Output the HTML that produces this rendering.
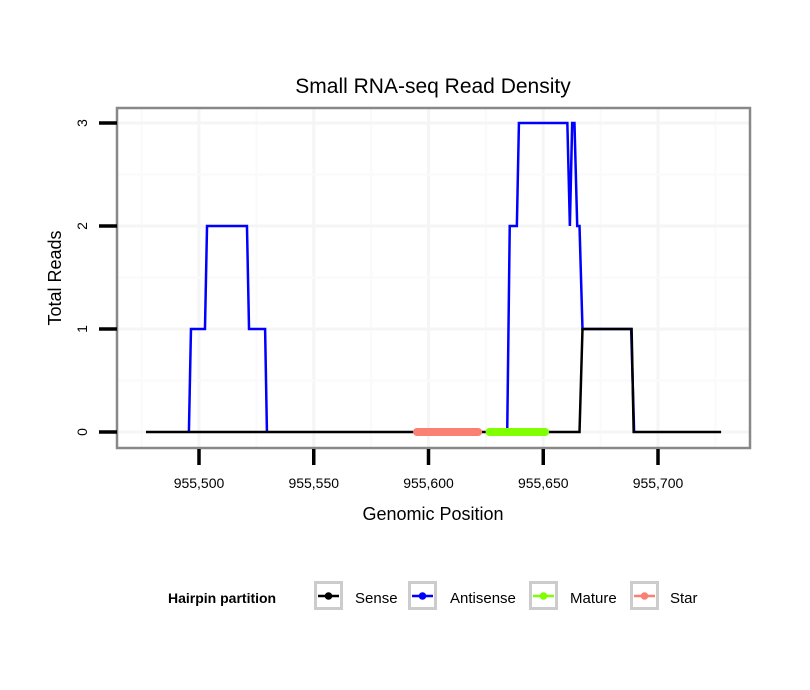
<!DOCTYPE html>
<html><head><meta charset="utf-8"><style>
body{margin:0;background:#fff;}
svg{display:block;font-family:"Liberation Sans",sans-serif;}
</style></head><body>
<svg id="chart" width="810" height="690"></svg>
<script>
const xTicks=[955500,955550,955600,955650,955700];
const xTickLabels=["955,500","955,550","955,600","955,650","955,700"];
const yTicks=[0,1,2,3];
const senseX=[955476.9,955665.8,955667.1,955688.5,955689.4,955727.5];
const senseY=[0,0,1,1,0,0];
const antiX=[955495.6,955496.5,955502.6,955503.5,955520.9,955521.8,955528.8,955529.6];
const antiY=[0,1,1,2,2,1,1,0];
const anti2X=[955634.3,955635.4,955638.5,955639.4,955660.5,955661.6,955662.6,955663.6,955664.8,955665.8,955667.1,955688.3,955689.6];
const anti2Y=[0,2,2,3,3,2,3,3,2,2,1,1,0];
const starRange=[955595.0,955621.6];
const matureRange=[955626.6,955650.8];
const NS="http://www.w3.org/2000/svg";
const svg=document.getElementById('chart');
function X(v){return 199+(v-955500)*2.295;}
function Y(v){return 432-v*103;}
function mk(t,a,p){const e=document.createElementNS(NS,t);for(const k in a)e.setAttribute(k,a[k]);(p||svg).appendChild(e);return e;}
const L=117,R=750,T=108,B=448;
const bg=mk('rect',{x:L,y:T,width:R-L,height:B-T,fill:'#fff'});


for(let v=955475;v<=955725;v+=25){const g=mk('line',{x1:X(v),x2:X(v),y1:T,y2:B,stroke:v%50===0?'#f5f5f5':'#fafafa','stroke-width':v%50===0?3:2});

}
for(let v=-0.5;v<=3.5;v+=0.5){const y=Y(v);if(y<T||y>B)continue;const g=mk('line',{x1:L,x2:R,y1:y,y2:y,stroke:Number.isInteger(v)?'#f5f5f5':'#fafafa','stroke-width':Number.isInteger(v)?3:2});

}
function poly(xs,ys,c,name){const p=mk('polyline',{points:xs.map((x,i)=>X(x)+','+Y(ys[i])).join(' '),fill:'none',stroke:c,'stroke-width':2.5,'stroke-linejoin':'miter'});

}
poly(antiX,antiY,'#0000ff','antisense-line-1');
poly(anti2X,anti2Y,'#0000ff','antisense-line-2');
poly(senseX,senseY,'#000','sense-line');
const st=mk('line',{x1:X(starRange[0]),x2:X(starRange[1]),y1:Y(0),y2:Y(0),stroke:'#fa8072','stroke-width':8,'stroke-linecap':'round'});


const mt=mk('line',{x1:X(matureRange[0]),x2:X(matureRange[1]),y1:Y(0),y2:Y(0),stroke:'#7fff00','stroke-width':8,'stroke-linecap':'round'});


const border=mk('rect',{x:L,y:T,width:R-L,height:B-T,fill:'none',stroke:'#888','stroke-width':2.5});


xTicks.forEach((v,i)=>{const t=mk('line',{x1:X(v),x2:X(v),y1:449,y2:465,stroke:'#000','stroke-width':3.5});


const l=mk('text',{x:X(v),y:488,'text-anchor':'middle','font-size':14});l.textContent=xTickLabels[i];

});
yTicks.forEach(v=>{const t=mk('line',{x1:99,x2:117,y1:Y(v),y2:Y(v),stroke:'#000','stroke-width':3.5});


const l=mk('text',{x:0,y:0,'text-anchor':'middle','font-size':14,transform:`translate(87,${Y(v)}) rotate(-90)`});l.textContent=String(v);

});
const ti=mk('text',{x:433,y:93,'text-anchor':'middle','font-size':21});ti.textContent='Small RNA-seq Read Density';


const xt=mk('text',{x:433,y:520,'text-anchor':'middle','font-size':18});xt.textContent='Genomic Position';


const yt=mk('text',{x:0,y:0,'text-anchor':'middle','font-size':18,transform:'translate(61,278) rotate(-90)'});yt.textContent='Total Reads';


const lt=mk('text',{x:168,y:603,'font-size':14,'font-weight':'bold'});lt.textContent='Hairpin partition';


const legItems=[['Sense','#000',314,355],['Antisense','#0000ff',408,450],['Mature','#7fff00',529,570],['Star','#fa8072',630,670]];
legItems.forEach(([n,c,bx,tx])=>{const g=mk('g',{});


mk('rect',{x:bx+1.5,y:582.5,width:26,height:26,fill:'#fff',stroke:'#ccc','stroke-width':3},g);
mk('line',{x1:bx+4,x2:bx+25,y1:596,y2:596,stroke:c,'stroke-width':2.5},g);
mk('circle',{cx:bx+14.5,cy:596,r:3.8,fill:c},g);
const t=mk('text',{x:tx,y:603,'font-size':15},g);t.textContent=n;});
</script>
</body></html>
